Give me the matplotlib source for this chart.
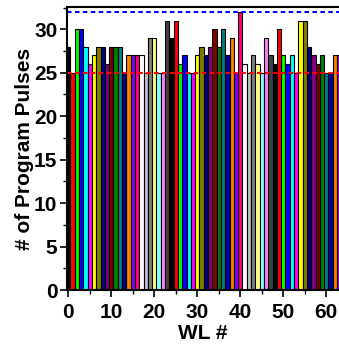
import matplotlib
matplotlib.use("Agg")
import matplotlib.pyplot as plt
from matplotlib.ticker import MultipleLocator

# Origin-style colour cycle used for the bars
palette = ["#000000", "#FF0000", "#00FF00", "#0000FF", "#00FFFF", "#FF00FF",
           "#FFFF00", "#808000", "#000080", "#800080", "#800000", "#008000",
           "#008080", "#0000A0", "#FF8000", "#8000FF", "#FF0080", "#FFFFFF",
           "#C0C0C0", "#808080", "#FFFF80", "#80FFFF", "#FF80FF", "#404040"]

wl = list(range(64))
pulses = [28, 25, 30, 30, 28, 26, 27, 28, 28, 26,
          28, 28, 28, 25, 27, 27, 27, 27, 25, 29,
          29, 25, 25, 31, 29, 31, 26, 27, 25, 25,
          27, 28, 27, 28, 30, 28, 30, 27, 29, 25,
          32, 26, 25, 27, 26, 25, 29, 27, 26, 30,
          27, 26, 27, 25, 31, 31, 28, 27, 26, 27,
          25, 25, 27, 27]
max_line = 32
min_line = 25

plt.rcParams['font.family'] = ['Liberation Sans', 'DejaVu Sans']
plt.rcParams['font.weight'] = 'bold'

fig = plt.figure(figsize=(3.39, 3.47), dpi=100)
ax = fig.add_axes([67/339, 57/347, 272/339, 283/347])

colors = [palette[i % len(palette)] for i in wl]
ax.bar(wl, pulses, width=1.0, color=colors, edgecolor="black", linewidth=0.8)

ax.axhline(max_line, color="#0000FF", linestyle=(0, (2.2, 1.6)), linewidth=1.5)
ax.axhline(min_line, color="#FF0000", linestyle=(0, (2.2, 1.6)), linewidth=1.5)

ax.set_xlim(-0.3, 62.95)
ax.set_ylim(0, 32.57)

ax.xaxis.set_major_locator(MultipleLocator(10))
ax.xaxis.set_minor_locator(MultipleLocator(5))
ax.yaxis.set_major_locator(MultipleLocator(5))
ax.yaxis.set_minor_locator(MultipleLocator(2.5))
ax.tick_params(axis="both", which="major", direction="out", length=5, width=1.2,
               labelsize=15)
ax.tick_params(axis="x", which="major", pad=4)
ax.tick_params(axis="y", which="major", pad=2)
ax.tick_params(axis="both", which="minor", direction="out", length=3, width=1.0)

for s in ["left", "bottom", "top"]:
    ax.spines[s].set_linewidth(1.5)
ax.spines["right"].set_visible(False)

ax.set_xlabel("WL #", fontsize=15, fontweight="bold", labelpad=2)
ax.set_ylabel("# of Program Pulses", fontsize=15, fontweight="bold", labelpad=0)

fig.savefig("out.png", dpi=100)
